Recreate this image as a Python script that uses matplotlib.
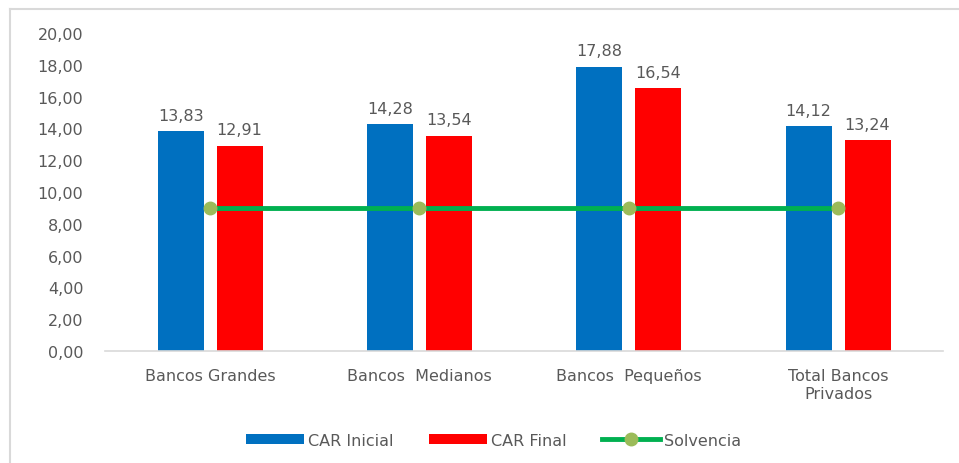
import matplotlib
matplotlib.use('Agg')
import matplotlib.pyplot as plt
from matplotlib.lines import Line2D
import numpy as np

plt.rcParams['font.family'] = ['DejaVu Sans']

# data
categorias = ['Bancos Grandes', 'Bancos  Medianos', 'Bancos  Pequeños', 'Total Bancos\nPrivados']
car_inicial = [13.83, 14.28, 17.88, 14.12]
car_final = [12.91, 13.54, 16.54, 13.24]
solvencia = [9, 9, 9, 9]

gris = '#595959'
azul = '#0070C0'
rojo = '#FF0000'

fig = plt.figure(figsize=(9.59, 4.64), dpi=100)
ax = fig.add_axes([0.110, 0.2414, 0.873, 0.6853])

x = np.arange(len(categorias))
w = 0.22
b1 = ax.bar(x - 0.141, car_inicial, w, color=azul, label='CAR Inicial')
b2 = ax.bar(x + 0.141, car_final, w, color=rojo, label='CAR Final')
ln, = ax.plot(x, solvencia, color='#00B050', lw=3.5, marker='o', ms=9,
              mfc='#9BBB59', mec='#9BBB59', label='Solvencia')

def fmt(v):
    return ('%.2f' % v).replace('.', ',')

for bars in (b1, b2):
    for r in bars:
        ax.annotate(fmt(r.get_height()), (r.get_x() + r.get_width() / 2, r.get_height()),
                    xytext=(0, 6), textcoords='offset points', ha='center', va='bottom',
                    fontsize=11.5, color=gris)

ax.set_xlim(-0.5, len(categorias) - 0.5)
ax.set_ylim(0, 20)
ax.set_yticks(np.arange(0, 21, 2))
ax.set_yticklabels([fmt(v) for v in np.arange(0, 21, 2)])
ax.set_xticks(x)
ax.set_xticklabels(categorias, linespacing=1.25)
ax.tick_params(axis='both', length=0, labelsize=11.5, labelcolor=gris)
ax.tick_params(axis='y', pad=16)
ax.tick_params(axis='x', pad=12)

for s in ['top', 'right', 'left']:
    ax.spines[s].set_visible(False)
ax.spines['bottom'].set_color('#D9D9D9')
ax.spines['bottom'].set_linewidth(1.2)

ax.legend(handles=[b1, b2, ln], loc='center', bbox_to_anchor=(0.515, 0.049),
          bbox_transform=fig.transFigure, ncol=3, frameon=False, fontsize=11.5,
          handlelength=3.6, handleheight=0.6, columnspacing=2.2, handletextpad=0.3,
          labelcolor=gris)

# outer frame
fx = 10 / 959
fy = 1 - 10 / 464
fig.add_artist(Line2D([fx, 1], [fy, fy], transform=fig.transFigure, color='#D9D9D9', lw=1.5))
fig.add_artist(Line2D([fx, fx], [0, fy], transform=fig.transFigure, color='#D9D9D9', lw=1.5))

fig.savefig('out.png', dpi=100)
